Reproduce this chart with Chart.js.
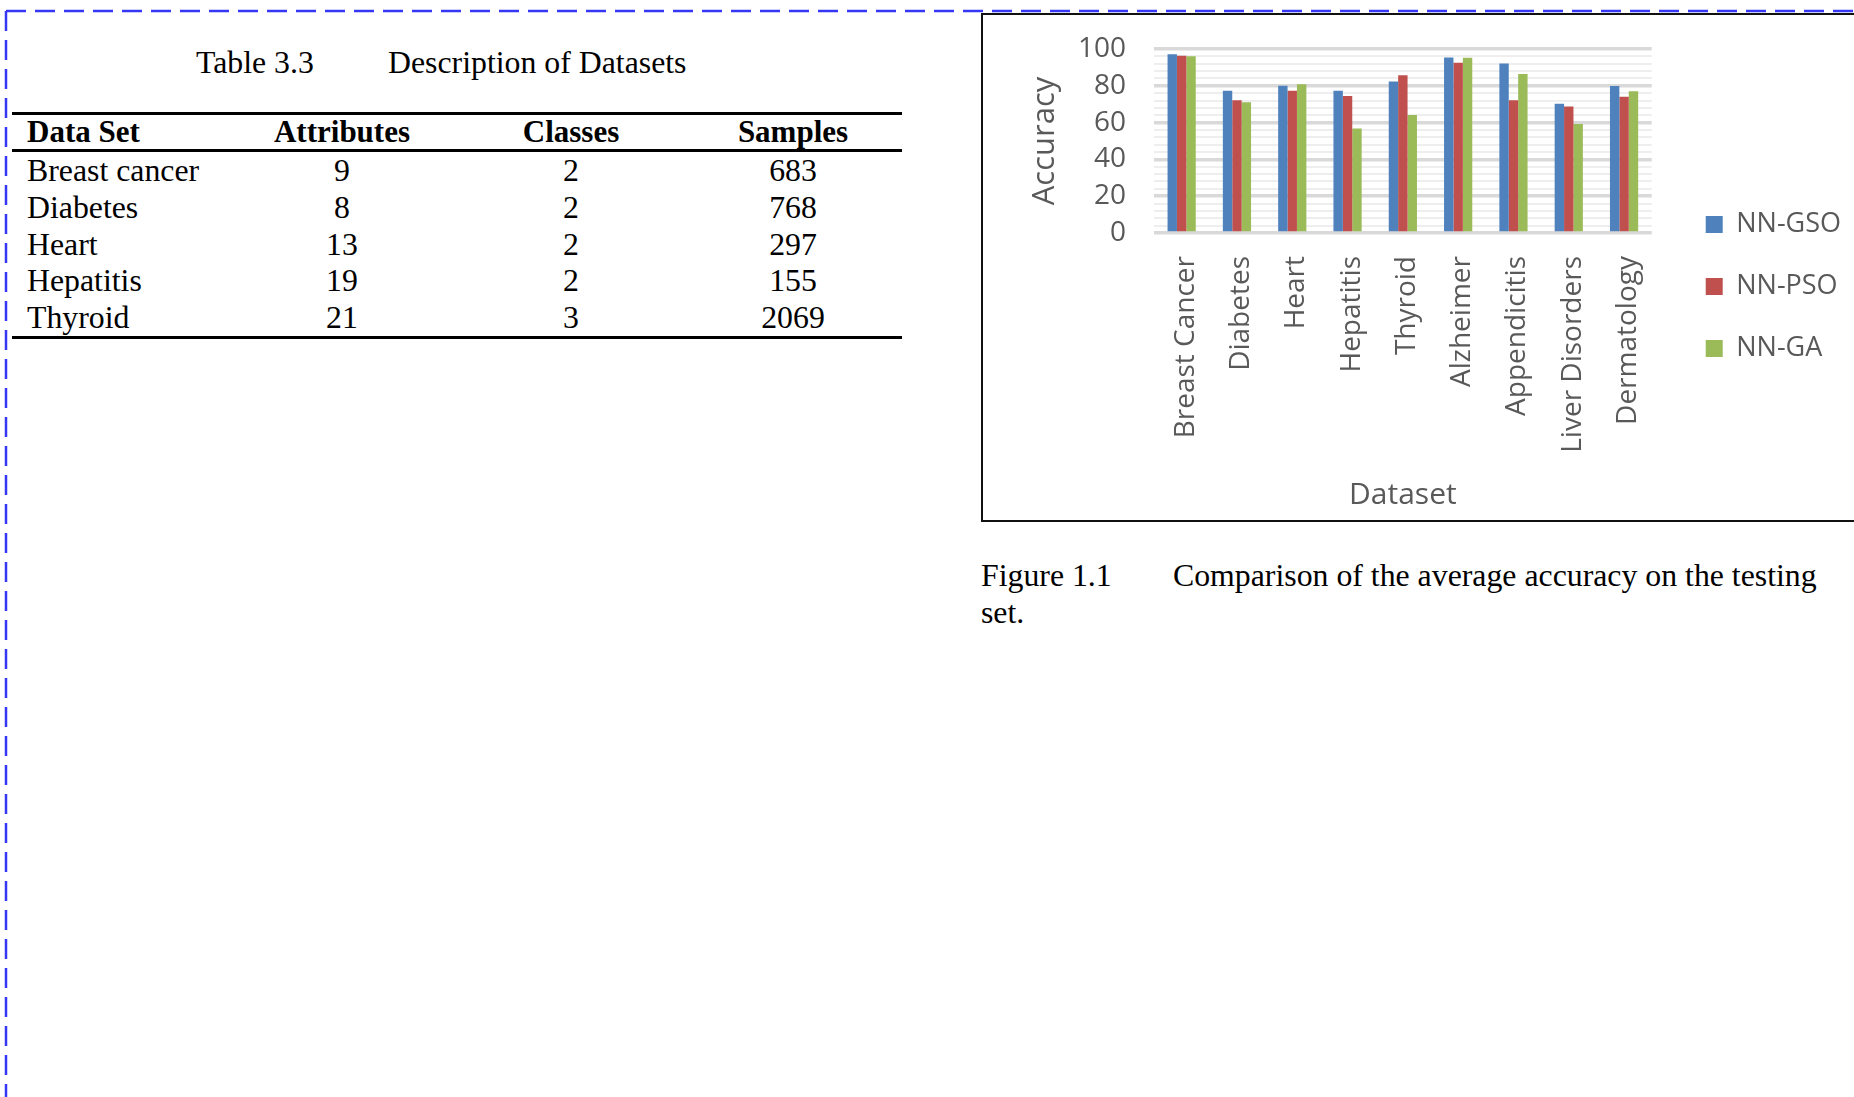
<!DOCTYPE html>
<html>
<head>
<meta charset="utf-8">
<script src="https://cdn.jsdelivr.net/npm/chart.js@4"></script>
<style>
  html, body { margin:0; padding:0; background:#fff; width:1854px; height:1097px; overflow:hidden; position:relative; }
  .serif { font-family: "Liberation Serif", "Times New Roman", serif; font-size:31.8px; color:#000; position:absolute; white-space:nowrap; line-height:36px; }
  .b { font-weight:bold; font-size:31px; }
  .rule { position:absolute; left:12px; width:890px; height:3px; background:#000; }
  .c { transform: translateX(-50%); }
  #frame { position:absolute; left:981px; top:13px; width:920px; height:505px; border:2.5px solid #111; box-sizing:content-box; }
  #chartWrap { position:absolute; left:983px; top:15px; width:868px; height:504px; }
  .preload { position:absolute; left:-9999px; top:0; font-family:"Open Sans"; font-size:28px; }
</style>
</head>
<body>
<div class="preload">NN-GSO Breast Cancer 0123456789 Dataset Accuracy</div>
<svg width="1854" height="1097" style="position:absolute;left:0;top:0">
  <line x1="6" y1="11" x2="1854" y2="11" stroke="#3636f5" stroke-width="2.5" stroke-dasharray="20 9"/>
  <line x1="6" y1="11" x2="6" y2="1097" stroke="#3636f5" stroke-width="2.5" stroke-dasharray="20 9"/>
</svg>

<div class="serif" style="left:196px; top:45px;">Table 3.3</div>
<div class="serif" style="left:388px; top:45px;">Description of Datasets</div>

<div class="rule" style="top:112px;"></div>
<div class="rule" style="top:149px;"></div>
<div class="rule" style="top:336px;"></div>

<div id="table"></div>

<div id="frame"></div>
<div id="chartWrap"><canvas id="chart" width="868" height="504"></canvas></div>

<div class="serif" style="left:981px; top:558px;">Figure 1.1</div>
<div class="serif" style="left:1173px; top:558px;">Comparison of the average accuracy on the testing</div>
<div class="serif" style="left:981px; top:595px;">set.</div>

<script>
// ---- Table data ----
const tableHeaders = ["Data Set", "Attributes", "Classes", "Samples"];
const tableNames = ["Breast cancer", "Diabetes", "Heart", "Hepatitis", "Thyroid"];
const tableAttributes = [9, 8, 13, 19, 21];
const tableClasses = [2, 2, 2, 2, 3];
const tableSamples = [683, 768, 297, 155, 2069];

// ---- Chart data ----
const categories = ["Breast Cancer", "Diabetes", "Heart", "Hepatitis", "Thyroid", "Alzheimer", "Appendicitis", "Liver Disorders", "Dermatology"];
const nnGSO = [97.1, 77.3, 80.0, 77.3, 82.4, 95.4, 92.1, 70.3, 79.9];
const nnPSO = [96.3, 72.2, 77.3, 74.5, 85.7, 92.5, 72.2, 68.7, 74.0];
const nnGA  = [96.0, 71.1, 80.8, 56.8, 64.1, 95.3, 86.4, 59.3, 77.1];
const yTicks = [0, 20, 40, 60, 80, 100];

// build table
(function(){
  const t = document.getElementById('table');
  const colX = [27, 342, 571, 793];
  const headerTop = 114;
  tableHeaders.forEach((h, i) => {
    const d = document.createElement('div');
    d.className = 'serif b' + (i > 0 ? ' c' : '');
    d.style.left = colX[i] + 'px';
    d.style.top = headerTop + 'px';
    d.textContent = h;
    t.appendChild(d);
  });
  const rowTop0 = 153, rowH = 36.8;
  tableNames.forEach((n, r) => {
    const vals = [n, tableAttributes[r], tableClasses[r], tableSamples[r]];
    vals.forEach((v, i) => {
      const d = document.createElement('div');
      d.className = 'serif' + (i > 0 ? ' c' : '');
      d.style.left = colX[i] + 'px';
      d.style.top = (rowTop0 + r * rowH) + 'px';
      d.textContent = v;
      t.appendChild(d);
    });
  });
})();

const gray = '#595959';
const sans = '"Open Sans", "Noto Sans", sans-serif';

function zeroPad(s) { s.paddingLeft = 0; s.paddingRight = 0; s.paddingTop = 0; s.paddingBottom = 0; }

function draw() {
  new Chart(document.getElementById('chart'), {
    type: 'bar',
    data: {
      labels: categories,
      datasets: [
        { label: 'NN-GSO', data: nnGSO, backgroundColor: '#4f81bd' },
        { label: 'NN-PSO', data: nnPSO, backgroundColor: '#c0504d' },
        { label: 'NN-GA',  data: nnGA,  backgroundColor: '#9bbb59' }
      ]
    },
    options: {
      responsive: false,
      animation: false,
      datasets: { bar: { categoryPercentage: 0.51, barPercentage: 1.0, borderWidth: 0 } },
      layout: { padding: { left: 42, top: 34, right: 0, bottom: 4 } },
      plugins: {
        tooltip: { enabled: false },
        legend: {
          position: 'right',
          title: { display: true, text: ' ', font: { size: 5 }, padding: 1.5 },
          labels: {
            boxWidth: 17, boxHeight: 17, padding: 35,
            color: gray,
            font: { family: sans, size: 27 }
          }
        }
      },
      scales: {
        x: {
          grid: { display: false, drawTicks: false },
          border: { display: false },
          ticks: {
            autoSkip: false, maxRotation: 90, minRotation: 90, padding: 23, labelOffset: 4,
            color: gray, font: { family: sans, size: 28 }
          },
          title: { display: true, text: 'Dataset', color: gray, font: { family: sans, size: 30 }, padding: { top: 18, bottom: 2 } },
          afterFit: s => { s.height = 282; zeroPad(s); }
        },
        y: {
          min: 0, max: 100,
          border: { display: false },
          grid: {
            drawTicks: false,
            color: c => (yTicks.includes(c.tick.value) ? '#d9d9d9' : '#eeeeee'),
            lineWidth: c => (yTicks.includes(c.tick.value) ? 3.5 : 2)
          },
          ticks: {
            stepSize: 4, autoSkip: false, padding: 28,
            color: gray, font: { family: sans, size: 28 },
            callback: v => (yTicks.includes(v) ? String(v) : '')
          },
          title: { display: true, text: 'Accuracy', color: gray, font: { family: sans, size: 31 }, padding: { top: 2, bottom: 13 } },
          afterFit: s => { s.width = 129; zeroPad(s); }
        },
        gap: {
          type: 'linear',
          position: 'right',
          display: false,
          afterFit: s => { s.width = 19; zeroPad(s); }
        }
      }
    }
  });
}

Promise.all([
  document.fonts.load('28px "Open Sans"'),
  document.fonts.load('30px "Open Sans"')
]).then(draw, draw);
</script>
</body>
</html>
